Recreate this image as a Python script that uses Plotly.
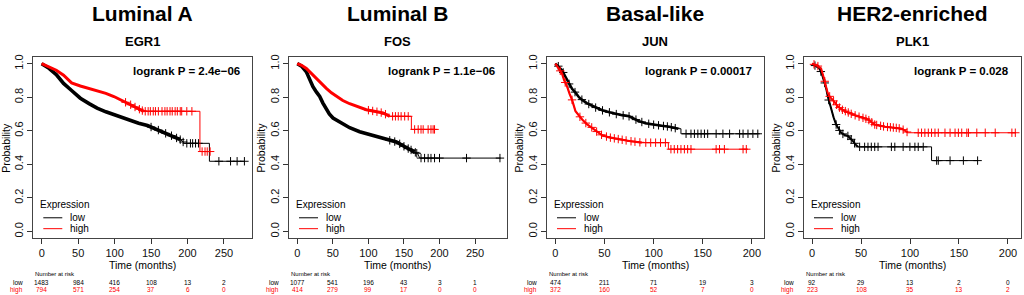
import numpy as np
import plotly.graph_objects as go

W, H = 1024, 295
FONT = "Liberation Sans, Arial, sans-serif"

# ---------------- data ----------------
subtypes = ["Luminal A", "Luminal B", "Basal-like", "HER2-enriched"]
genes = ["EGR1", "FOS", "JUN", "PLK1"]
pvalues = ["logrank P = 2.4e\u221206", "logrank P = 1.1e\u221206",
           "logrank P = 0.00017", "logrank P = 0.028"]

# Luminal A / EGR1
lumA_low_t = [0, 5, 10, 20, 30, 41, 53, 65, 76, 88, 99, 110, 122, 133, 145, 157, 168, 180, 191, 196, 230, 230, 278]
lumA_low_s = [1.0, 0.985, 0.972, 0.935, 0.882, 0.84, 0.794, 0.762, 0.735, 0.713, 0.696, 0.677, 0.657, 0.645, 0.631, 0.61, 0.588, 0.567, 0.545, 0.525, 0.525, 0.418, 0.418]
lumA_low_c = [150, 160, 170, 178, 185, 190, 194, 199, 204, 207, 211, 215, 243, 259, 268, 278]
lumA_high_t = [0, 10, 20, 30, 41, 53, 65, 76, 88, 99, 110, 122, 131, 140, 217, 217, 231]
lumA_high_s = [1.0, 0.978, 0.961, 0.931, 0.885, 0.867, 0.852, 0.84, 0.823, 0.804, 0.78, 0.755, 0.735, 0.716, 0.716, 0.476, 0.476]
lumA_high_c = [115, 122, 128, 134, 138, 142, 146, 149, 153, 156, 160, 165, 169, 172, 176, 179, 183, 186, 190, 192, 199, 206, 220, 224, 227, 231]

# Luminal B / FOS
lumB_low_t = [0, 6, 12.7, 17, 22, 27, 31.5, 36, 40.8, 45, 50.2, 62, 73.6, 87.7, 101.8, 120.6, 139.4, 153, 162.7, 169.7, 172, 286]
lumB_low_s = [1.0, 0.985, 0.951, 0.91, 0.863, 0.83, 0.804, 0.765, 0.725, 0.70, 0.676, 0.647, 0.618, 0.594, 0.578, 0.553, 0.533, 0.5, 0.48, 0.461, 0.437, 0.437]
lumB_low_c = [130, 137, 144, 150, 156, 160, 166, 168, 174, 179, 184, 188, 193, 200, 238, 285]
lumB_high_t = [0, 6, 12.7, 20, 26.7, 33, 40.8, 48, 54.9, 64, 73.6, 85, 97, 110, 120.6, 130, 160.4, 160.4, 193]
lumB_high_s = [1.0, 0.99, 0.971, 0.94, 0.912, 0.88, 0.853, 0.826, 0.804, 0.78, 0.761, 0.745, 0.725, 0.715, 0.706, 0.686, 0.686, 0.608, 0.608]
lumB_high_c = [100, 106, 112, 118, 124, 134, 138, 142, 146, 151, 156, 165, 170, 174, 177, 184, 188, 191, 193]

# Basal-like / JUN
basal_low_t = [0, 3, 6.8, 10, 13.7, 17, 20.5, 24, 27.3, 32, 37.5, 42, 47.7, 55, 61.4, 68, 75, 80, 85.2, 92, 99, 108, 116, 124.4, 127.8, 127.8, 208]
basal_low_s = [1.0, 0.985, 0.961, 0.925, 0.882, 0.85, 0.827, 0.80, 0.784, 0.765, 0.749, 0.735, 0.722, 0.71, 0.70, 0.693, 0.686, 0.672, 0.657, 0.645, 0.637, 0.63, 0.624, 0.612, 0.612, 0.582, 0.582]
basal_low_c = [3, 8, 14, 20, 27, 34, 41, 48, 55, 62, 69, 75, 82, 88, 95, 100, 105, 110, 114, 118, 122, 133, 138, 141.5, 145, 148.3, 151.7, 155, 163.6, 170.5, 177.3, 187.5, 191, 196, 201, 206]
basal_high_t = [0, 3, 6.8, 9, 12, 14.5, 17, 20.5, 24, 27.3, 32, 37.5, 42, 47.7, 55, 61.4, 75, 88.6, 115, 115, 196]
basal_high_s = [1.0, 0.975, 0.941, 0.9, 0.863, 0.82, 0.784, 0.716, 0.69, 0.667, 0.64, 0.618, 0.595, 0.573, 0.56, 0.553, 0.539, 0.529, 0.529, 0.49, 0.49]
basal_high_c = [5, 10, 17, 25, 31, 37, 42, 47, 52, 56, 60, 64, 68, 72, 77, 81, 86, 92, 97, 102, 107, 112, 117.6, 121, 124.4, 127.8, 131.3, 134.6, 138, 163.6, 167, 172, 191, 194.3]

# HER2-enriched / PLK1
her2_low_t = [0, 7.6, 10, 12.7, 14.5, 16.1, 18, 19.5, 22, 24.6, 27, 29.8, 33, 36.6, 41.7, 44, 46.9, 122, 122, 169]
her2_low_s = [1.0, 0.971, 0.94, 0.892, 0.85, 0.804, 0.76, 0.725, 0.68, 0.637, 0.61, 0.588, 0.575, 0.569, 0.539, 0.52, 0.504, 0.504, 0.422, 0.422]
her2_low_c = [3, 9, 13, 17, 24.6, 28, 31.5, 36.6, 40, 43.4, 48.6, 53.7, 57.1, 60.5, 64, 67.4, 81, 84.5, 93, 99.9, 105, 108.4, 113.5, 127.2, 128.9, 140.9, 154.5, 169]
her2_high_t = [0, 5, 9.3, 11, 12.7, 14.5, 16.1, 18.5, 21.2, 26.3, 31, 36.6, 41, 46.9, 52, 57.1, 60, 64, 74.3, 85, 91.3, 95, 98.2, 208]
her2_high_s = [1.0, 0.99, 0.971, 0.94, 0.902, 0.86, 0.824, 0.8, 0.784, 0.745, 0.725, 0.71, 0.698, 0.686, 0.677, 0.667, 0.655, 0.637, 0.624, 0.618, 0.612, 0.6, 0.588, 0.588]
her2_high_c = [2, 6, 13, 18, 22, 25, 28, 31, 34, 37, 40, 44, 48, 52, 55, 58, 61, 64, 66, 70, 73, 77, 80, 83, 86, 89, 93, 97,
               108.4, 111.8, 115.2, 118.7, 122, 125.5, 128.9, 135.7, 140.9, 146, 149.4, 152.8, 158, 159.7, 168.2, 176.8, 187, 204, 207.5]

risk_times = [[0, 50, 100, 150, 200, 250], [0, 50, 100, 150, 200, 250],
              [0, 50, 100, 150, 200], [0, 50, 100, 150, 200]]
risk_low = [[1483, 984, 416, 108, 13, 2], [1077, 541, 196, 43, 3, 1],
            [474, 211, 71, 19, 3], [92, 29, 13, 2, 0]]
risk_high = [[794, 571, 254, 37, 6, 0], [414, 279, 99, 17, 0, 0],
             [372, 160, 52, 7, 0], [223, 108, 35, 13, 2]]

panels = [
    (lumA_low_t, lumA_low_s, lumA_low_c, lumA_high_t, lumA_high_s, lumA_high_c),
    (lumB_low_t, lumB_low_s, lumB_low_c, lumB_high_t, lumB_high_s, lumB_high_c),
    (basal_low_t, basal_low_s, basal_low_c, basal_high_t, basal_high_s, basal_high_c),
    (her2_low_t, her2_low_s, her2_low_c, her2_high_t, her2_high_s, her2_high_c),
]

# ---------------- layout geometry (pixels) ----------------
xbox = [(33.3, 251.7), (289.0, 506.7), (547.0, 763.7), (804.0, 1020.7)]
ytop, ybot = 54.5, 237.5
xranges = [[-11.5, 288], [-11.7, 294.5], [-8.5, 212], [-8.2, 213]]
dense_to = [(190, 140), (165, 130), (125, 88), (47, 98)]
dense_w = [(3.6, 3.0), (3.6, 3.0), (2.6, 2.2), (2.0, 2.0)]


def fx(px):
    return px / W


def fy(py):
    return 1 - py / H


BLACK = "#000000"
RED = "#ff0000"

fig = go.Figure()
annotations = []
shapes = []

for i in range(4):
    xa = "x" if i == 0 else f"x{i+1}"
    ya = "y" if i == 0 else f"y{i+1}"
    lt, ls, lc, ht, hs, hc = panels[i]
    for (t, s, c, col, dend, dw) in [(lt, ls, lc, BLACK, dense_to[i][0], dense_w[i][0]),
                                      (ht, hs, hc, RED, dense_to[i][1], dense_w[i][1])]:
        t = np.array(t, float)
        s = np.array(s, float)
        fig.add_trace(go.Scatter(x=t, y=s, mode="lines", xaxis=xa, yaxis=ya,
                                 line=dict(color=col, width=1), showlegend=False,
                                 hoverinfo="skip"))
        m = t <= dend
        td = np.append(t[m], dend)
        sd = np.append(s[m], np.interp(dend, t, s))
        fig.add_trace(go.Scatter(x=td, y=sd, mode="lines", xaxis=xa, yaxis=ya,
                                 line=dict(color=col, width=dw), showlegend=False,
                                 hoverinfo="skip"))
        c = np.array(c, float)
        fig.add_trace(go.Scatter(x=c, y=np.interp(c, t, s), mode="markers",
                                 xaxis=xa, yaxis=ya, showlegend=False, hoverinfo="skip",
                                 marker=dict(symbol="cross-thin", size=6,
                                             line=dict(width=1, color=col))))

    x0, x1 = xbox[i]
    dom_x = [fx(x0), fx(x1)]
    dom_y = [fy(ybot), fy(ytop)]
    tickv = risk_times[i]
    fig.update_layout(**{
        ("xaxis" if i == 0 else f"xaxis{i+1}"): dict(
            domain=dom_x, range=xranges[i], anchor=ya, tickvals=tickv,
            ticks="outside", ticklen=5, tickwidth=1, tickcolor="#333",
            showline=True, linecolor="#444", linewidth=1, mirror=True,
            showgrid=False, zeroline=False,
            tickfont=dict(family=FONT, size=11, color="#111")),
        ("yaxis" if i == 0 else f"yaxis{i+1}"): dict(
            domain=dom_y, range=[-0.04, 1.04], anchor=xa,
            tickvals=[0, 0.2, 0.4, 0.6, 0.8, 1.0],
            ticktext=["0.0", "0.2", "0.4", "0.6", "0.8", "1.0"],
            tickangle=-90, ticks="outside", ticklen=5, tickwidth=1, tickcolor="#333",
            showline=True, linecolor="#444", linewidth=1, mirror=True,
            showgrid=False, zeroline=False,
            tickfont=dict(family=FONT, size=11, color="#111")),
    })

    cx = (x0 + x1) / 2
    # titles
    annotations.append(dict(text=f"<b>{subtypes[i]}</b>", x=fx(cx), y=fy(11),
                            xref="paper", yref="paper", showarrow=False,
                            font=dict(family=FONT, size=21, color="#000"),
                            xanchor="center", yanchor="middle"))
    annotations.append(dict(text=f"<b>{genes[i]}</b>", x=fx(cx), y=fy(38.5),
                            xref="paper", yref="paper", showarrow=False,
                            font=dict(family=FONT, size=13, color="#000"),
                            xanchor="center", yanchor="middle"))
    # logrank
    annotations.append(dict(text=f"<b>{pvalues[i]}</b>", x=fx(x1 - 10), y=fy(69),
                            xref="paper", yref="paper", showarrow=False,
                            font=dict(family=FONT, size=11.5, color="#000"),
                            xanchor="right", yanchor="middle"))
    # axis titles
    annotations.append(dict(text="Probability", x=fx(x0 - 28), y=fy((ytop + ybot) / 2),
                            xref="paper", yref="paper", showarrow=False, textangle=-90,
                            font=dict(family=FONT, size=10.5, color="#000"),
                            xanchor="center", yanchor="middle"))
    annotations.append(dict(text="Time (months)", x=fx(cx), y=fy(265),
                            xref="paper", yref="paper", showarrow=False,
                            font=dict(family=FONT, size=10.5, color="#000"),
                            xanchor="center", yanchor="middle"))
    # legend
    annotations.append(dict(text="Expression", x=fx(x0 + 4.5), y=fy(204),
                            xref="paper", yref="paper", showarrow=False,
                            font=dict(family=FONT, size=10, color="#000"),
                            xanchor="left", yanchor="middle"))
    for lab, col, py in [("low", BLACK, 217), ("high", RED, 228)]:
        shapes.append(dict(type="line", xref="paper", yref="paper",
                           x0=fx(x0 + 10), x1=fx(x0 + 29), y0=fy(py), y1=fy(py),
                           line=dict(color=col, width=1)))
        annotations.append(dict(text=lab, x=fx(x0 + 34.5), y=fy(py),
                                xref="paper", yref="paper", showarrow=False,
                                font=dict(family=FONT, size=10, color="#000"),
                                xanchor="left", yanchor="middle"))
    # number at risk table
    annotations.append(dict(text="Number at risk", x=fx(x0), y=fy(274),
                            xref="paper", yref="paper", showarrow=False,
                            font=dict(family=FONT, size=6, color="#000"),
                            xanchor="left", yanchor="middle"))
    annotations.append(dict(text="low", x=fx(x0 - 8), y=fy(282),
                            xref="paper", yref="paper", showarrow=False,
                            font=dict(family=FONT, size=6.5, color="#000"),
                            xanchor="right", yanchor="middle"))
    annotations.append(dict(text="high", x=fx(x0 - 8), y=fy(289.5),
                            xref="paper", yref="paper", showarrow=False,
                            font=dict(family=FONT, size=6.5, color=RED),
                            xanchor="right", yanchor="middle"))
    for tv, nl, nh in zip(risk_times[i], risk_low[i], risk_high[i]):
        annotations.append(dict(text=str(nl), x=tv, y=fy(282), xref=xa, yref="paper",
                                showarrow=False, font=dict(family=FONT, size=6.5, color="#000"),
                                xanchor="center", yanchor="middle"))
        annotations.append(dict(text=str(nh), x=tv, y=fy(289.5), xref=xa, yref="paper",
                                showarrow=False, font=dict(family=FONT, size=6.5, color=RED),
                                xanchor="center", yanchor="middle"))

fig.update_layout(width=W, height=H, margin=dict(l=0, r=0, t=0, b=0),
                  paper_bgcolor="white", plot_bgcolor="white",
                  annotations=annotations, shapes=shapes, showlegend=False,
                  font=dict(family=FONT))
fig.write_html("out.html", config={"displayModeBar": False},
               post_script="document.body.style.margin='0px';document.body.style.padding='0px';document.body.style.overflow='hidden';")
